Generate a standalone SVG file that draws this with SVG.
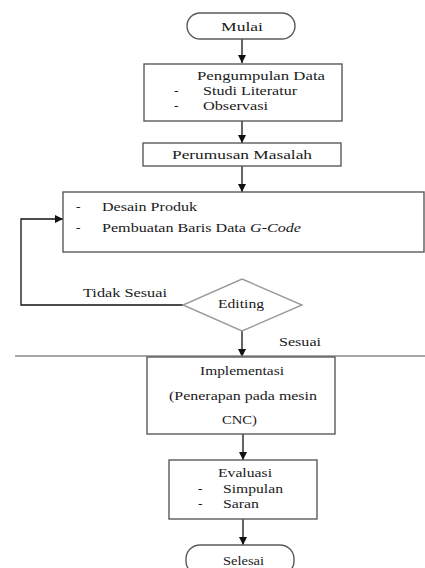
<svg xmlns="http://www.w3.org/2000/svg" width="425" height="568" viewBox="0 0 425 568">
<style>
.box{fill:#fff;stroke:#5a5a5a;stroke-width:1.4}
.dia{fill:#fff;stroke:#9a9a9a;stroke-width:1.4}
.c{stroke:#111;stroke-width:1.3;fill:none}
.g{stroke:#8a8a8a;stroke-width:1.3;fill:none}
</style>
<defs>
<marker id="ah" markerUnits="userSpaceOnUse" markerWidth="9" markerHeight="9" refX="8" refY="4" orient="auto">
<path d="M0,0 L8,4 L0,8 z" fill="#111"/>
</marker>
</defs>
<rect width="425" height="568" fill="#fff"/>
<g font-family="'Liberation Serif', 'Times New Roman', serif" font-size="13.5" fill="#1a1a1a">
<g id="connectors">
<line class="c" x1="242" y1="39" x2="242" y2="63" marker-end="url(#ah)"/>
<line class="c" x1="242" y1="121" x2="242" y2="143" marker-end="url(#ah)"/>
<line class="c" x1="242" y1="166" x2="242" y2="192" marker-end="url(#ah)"/>
<polyline class="c" points="183,305 21,305 21,219 63,219" marker-end="url(#ah)"/>
<line class="c" x1="242" y1="331" x2="242" y2="357" marker-end="url(#ah)"/>
<line class="g" x1="15" y1="356" x2="425" y2="356"/>
<line class="c" x1="243" y1="434" x2="243" y2="460" marker-end="url(#ah)"/>
<line class="c" x1="243" y1="519" x2="243" y2="545" marker-end="url(#ah)"/>
<text x="83" y="297" textLength="84" lengthAdjust="spacingAndGlyphs">Tidak Sesuai</text>
<text x="279" y="346" textLength="42" lengthAdjust="spacingAndGlyphs">Sesuai</text>
</g>
<g id="mulai">
<rect class="box" x="187" y="13" width="108" height="26" rx="13" ry="13"/>
<text x="221" y="31" textLength="42" lengthAdjust="spacingAndGlyphs">Mulai</text>
</g>
<g id="pengumpulan">
<rect class="box" x="144" y="64" width="198" height="57"/>
<text x="197" y="80" textLength="128" lengthAdjust="spacingAndGlyphs">Pengumpulan Data</text>
<text x="174" y="95">-</text>
<text x="203" y="95" textLength="94" lengthAdjust="spacingAndGlyphs">Studi Literatur</text>
<text x="174" y="110">-</text>
<text x="203" y="110" textLength="65" lengthAdjust="spacingAndGlyphs">Observasi</text>
</g>
<g id="perumusan">
<rect class="box" x="143" y="143" width="198" height="23"/>
<text x="172" y="159" textLength="140" lengthAdjust="spacingAndGlyphs">Perumusan Masalah</text>
</g>
<g id="desain">
<rect class="box" x="63" y="192" width="361" height="60"/>
<text x="76" y="211">-</text>
<text x="102" y="211" textLength="95" lengthAdjust="spacingAndGlyphs">Desain Produk</text>
<text x="76" y="232">-</text>
<text x="102" y="232" textLength="199" lengthAdjust="spacingAndGlyphs">Pembuatan Baris Data <tspan font-style="italic">G-Code</tspan></text>
</g>
<g id="editing">
<polygon class="dia" points="242,279 302,305 242,331 183,305"/>
<text x="218" y="308" textLength="46" lengthAdjust="spacingAndGlyphs">Editing</text>
</g>
<g id="implementasi">
<rect class="box" x="147" y="357" width="188" height="77"/>
<text x="200" y="375" textLength="84" lengthAdjust="spacingAndGlyphs">Implementasi</text>
<text x="169" y="400" textLength="148" lengthAdjust="spacingAndGlyphs">(Penerapan pada mesin</text>
<text x="222" y="424" textLength="35" lengthAdjust="spacingAndGlyphs">CNC)</text>
</g>
<g id="evaluasi">
<rect class="box" x="169" y="460" width="148" height="59"/>
<text x="218" y="477" textLength="54" lengthAdjust="spacingAndGlyphs">Evaluasi</text>
<text x="198" y="493">-</text>
<text x="223" y="493" textLength="60" lengthAdjust="spacingAndGlyphs">Simpulan</text>
<text x="198" y="508">-</text>
<text x="223" y="508" textLength="36" lengthAdjust="spacingAndGlyphs">Saran</text>
</g>
<g id="selesai">
<rect class="box" x="186" y="545" width="108" height="30" rx="14" ry="14"/>
<text x="223" y="565" textLength="41" lengthAdjust="spacingAndGlyphs">Selesai</text>
</g>
</g>
</svg>
